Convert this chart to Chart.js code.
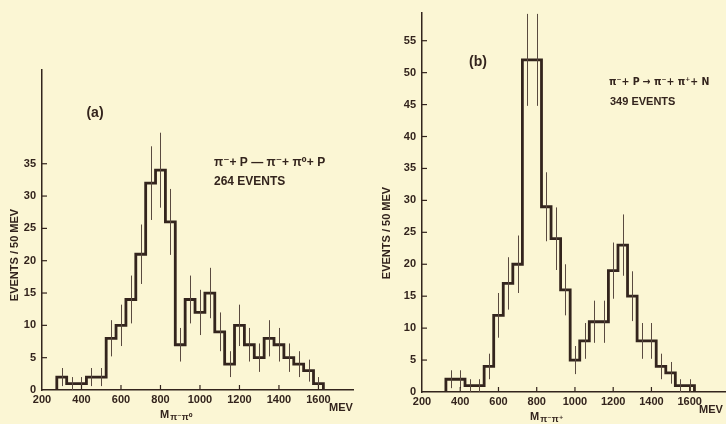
<!DOCTYPE html>
<html><head><meta charset="utf-8">
<script src="https://cdn.jsdelivr.net/npm/chart.js@4/dist/chart.umd.min.js"></script>
<style>
html,body{margin:0;padding:0;background:#fbf6d4;}
body{width:726px;height:424px;position:relative;overflow:hidden;}
.p{position:absolute;top:0;height:424px;}
</style></head><body>
<div class="p" style="left:0;width:365px"><canvas id="ca"></canvas></div>
<div class="p" style="left:365px;width:361px"><canvas id="cb"></canvas></div>
<script>
// ---- data (bin width 50 MeV) ----
const binWidth = 50;
const centersA = [300,350,400,450,500,550,600,650,700,750,800,850,900,950,1000,1050,1100,1150,1200,1250,1300,1350,1400,1450,1500,1550,1600];
const countsA  = [2,1,1,2,2,8,10,14,21,32,34,26,7,14,12,15,9,4,10,7,5,8,7,5,4,3,1];
const errorsA  = [1.4,1,1,1.4,1.4,2.8,3.2,3.7,4.6,5.7,5.8,5.1,2.6,3.7,3.5,3.9,3,2,3.2,2.6,2.2,2.8,2.6,2.2,2,1.7,1];
const centersB = [350,400,450,500,550,600,650,700,750,800,850,900,950,1000,1050,1100,1150,1200,1250,1300,1350,1400,1450,1500,1550,1600];
const countsB  = [2,2,1,1,4,12,17,20,52,52,29,24,16,5,8,11,11,19,23,15,8,8,4,3,1,1];
const errorsB  = [1.4,1.4,1,1,2,3.5,4.1,4.5,7.2,7.2,5.4,4.9,4,2.2,2.8,3.3,3.3,4.4,4.8,3.9,2.8,2.8,2,1.7,1,1];
const xTicks   = [200,400,600,800,1000,1200,1400,1600];
const yTicksA  = [0,5,10,15,20,25,30,35];
const yTicksB  = [0,5,10,15,20,25,30,35,40,45,50,55];

const INK = '#33241d';
const ERR = '#5a4a40';
const FONT = "'Liberation Sans','DejaVu Sans',sans-serif";

function stepPoints(centers, counts){
  const pts = [{x: centers[0]-binWidth/2, y: 0}];
  centers.forEach((c,i)=>pts.push({x: c-binWidth/2, y: counts[i]}));
  pts.push({x: centers[centers.length-1]+binWidth/2, y: 0});
  return pts;
}

const errorBars = {
  id:'errorBars',
  afterDatasetsDraw(chart, args, o){
    const {ctx, scales:{x,y}} = chart;
    ctx.save(); ctx.strokeStyle = ERR; ctx.lineWidth = 1;
    o.centers.forEach((c,i)=>{
      const px = Math.round(x.getPixelForValue(c))+0.5;
      ctx.beginPath();
      ctx.moveTo(px, y.getPixelForValue(o.counts[i]+o.errors[i]));
      ctx.lineTo(px, y.getPixelForValue(Math.max(0,o.counts[i]-o.errors[i])));
      ctx.stroke();
    });
    ctx.restore();
  }
};
const innerTicks = {
  id:'innerTicks',
  afterDatasetsDraw(chart){
    const {ctx, scales:{x,y}, chartArea:a} = chart;
    ctx.save(); ctx.strokeStyle = INK; ctx.lineWidth = 1.2;
    x.ticks.forEach(t=>{ if(t.value===x.min) return;
      const px = x.getPixelForValue(t.value);
      ctx.beginPath(); ctx.moveTo(px,a.bottom); ctx.lineTo(px,a.bottom-5); ctx.stroke(); });
    y.ticks.forEach(t=>{ if(t.value===y.min) return;
      const py = y.getPixelForValue(t.value);
      ctx.beginPath(); ctx.moveTo(a.left,py); ctx.lineTo(a.left+5,py); ctx.stroke(); });
    ctx.restore();
  }
};
const labels = {
  id:'labels',
  afterDraw(chart, args, o){
    const ctx = chart.ctx;
    ctx.save(); ctx.fillStyle = INK; ctx.textBaseline = 'middle';
    o.items.forEach(it=>{
      ctx.save();
      ctx.translate(it.x, it.y);
      if(it.rot) ctx.rotate(it.rot);
      const fam = it.family || FONT;
      ctx.font = `bold ${it.size}px ${fam}`;
      ctx.textAlign = it.align || 'center';
      if(it.sub){
        ctx.textAlign = 'left';
        ctx.fillText(it.t, 0, 0);
        const w = ctx.measureText(it.t).width;
        ctx.font = `bold ${it.size-2}px ${fam}`;
        ctx.fillText(it.sub, w+1, 3);
      } else ctx.fillText(it.t, 0, 0);
      ctx.restore();
    });
    ctx.restore();
  }
};

function makeChart(id, centers, counts, errors, yTicks, cfg){
  return new Chart(document.getElementById(id), {
    type:'line',
    data:{datasets:[{data: stepPoints(centers, counts), stepped:'before', borderColor: INK,
      borderWidth: 2.8, pointRadius: 0, fill: false, tension: 0}]},
    options:{
      responsive:true, maintainAspectRatio:false, animation:false, devicePixelRatio:1,
      layout:{padding: cfg.padding},
      plugins:{legend:{display:false}, tooltip:{enabled:false},
        errorBars:{centers, counts, errors}, labels:{items: cfg.items}},
      scales:{
        x:{type:'linear', min:200, max:cfg.xmax,
          afterBuildTicks: s=>{ s.ticks = xTicks.map(v=>({value:v})); },
          afterFit: s=>{ s.height = cfg.xh; },
          ticks:{color:INK, font:{family:FONT, size:11, weight:'bold'}, padding:3, maxRotation:0, autoSkip:false,
            callback: v=>String(v)},
          grid:{display:false, drawTicks:false}, border:{display:true, color:INK, width:1.5}},
        y:{min:0, max:cfg.ymax,
          afterBuildTicks: s=>{ s.ticks = yTicks.map(v=>({value:v})); },
          afterFit: s=>{ s.width = cfg.yw; },
          ticks:{color:INK, font:{family:FONT, size:11, weight:'bold'}, padding:6, autoSkip:false,
            callback: v=>String(v)},
          grid:{display:false, drawTicks:false}, border:{display:true, color:INK, width:1.5}}
      }
    },
    plugins:[errorBars, innerTicks, labels]
  });
}

const totalA = countsA.reduce((s,v)=>s+v,0);
const totalB = countsB.reduce((s,v)=>s+v,0);

makeChart('ca', centersA, countsA, errorsA, yTicksA, {
  padding:{top:70, right:12, left:0, bottom:0}, xmax:1775, ymax:49.5, xh:34, yw:42,
  items:[
    {t:'(a)', x:95, y:113, size:14},
    {t:'π⁻+ P — π⁻+ π⁰+ P', x:214, y:163, size:12, align:'left'},
    {t:totalA+' EVENTS', x:214, y:182, size:12, align:'left'},
    {t:'MEV', x:341, y:408, size:11},
    {t:'EVENTS / 50 MEV', x:15, y:255, size:11, rot:-Math.PI/2},
    {t:'M', sub:'π⁻π⁰', x:160, y:415, size:11}
  ]
});
makeChart('cb', centersB, countsB, errorsB, yTicksB, {
  padding:{top:10, right:0, left:0, bottom:0}, xmax:1790, ymax:59.4, xh:32, yw:57,
  items:[
    {t:'(b)', x:478-365, y:62, size:14},
    {t:'π⁻+ P → π⁻+ π⁺+ N', x:609-365, y:82, size:10.5, align:'left', family:"'DejaVu Sans Condensed','DejaVu Sans',sans-serif"},
    {t:totalB+' EVENTS', x:610-365, y:102, size:11, align:'left'},
    {t:'MEV', x:711-365, y:410, size:11},
    {t:'EVENTS / 50 MEV', x:387-365, y:233, size:11, rot:-Math.PI/2},
    {t:'M', sub:'π⁻π⁺', x:530-365, y:417, size:11}
  ]
});
</script>
</body></html>
